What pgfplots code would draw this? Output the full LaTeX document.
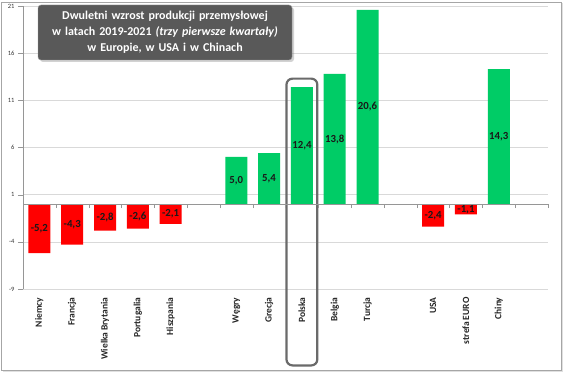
\documentclass[border=0pt]{standalone}
\usepackage{fontspec}
\setmainfont{Carlito}
\usepackage{pgfplots}
\pgfplotsset{compat=1.18}
\usepackage{pgfplotstable}
\usetikzlibrary{shadows}
\definecolor{barred}{RGB}{255,0,0}
\definecolor{bargreen}{RGB}{0,204,102}
\definecolor{boxgray}{RGB}{89,89,89}
\definecolor{gridc}{RGB}{217,217,217}
\definecolor{axc}{RGB}{150,150,150}

\pgfplotstableread{
x y
0 -5.2
1 -4.3
2 -2.8
3 -2.6
4 -2.1
12 -2.4
13 -1.1
}\negdata

\pgfplotstableread{
x y
6 5.0
7 5.4
8 12.4
9 13.8
10 20.6
14 14.3
}\posdata

\begin{document}
\begin{tikzpicture}
\useasboundingbox (0,0) rectangle (564pt,372pt);
% outer frame
\fill[black!12] (3pt,0pt) rectangle (563pt,369pt);
\draw[fill=white, draw=black!35, line width=0.8pt] (1pt,2pt) rectangle (561pt,370pt);

\begin{axis}[
  at={(23pt,83pt)}, anchor=south west,
  scale only axis, width=525pt, height=283pt,
  xmin=-0.5, xmax=15.5, ymin=-9, ymax=21,
  axis y line*=left, axis x line*=bottom,
  x axis line style={draw=none},
  y axis line style={draw=axc},
  xtick={0,1,2,3,4,6,7,8,9,10,12,13,14},
  xticklabels={Niemcy,Francja,Wielka\,Brytania,Portugalia,Hiszpania,Węgry,Grecja,Polska,Belgia,Turcja,USA,strefa\,EURO,Chiny},
  xtick style={draw=none},
  xticklabel style={rotate=90, anchor=east, font=\bfseries\fontsize{9.5}{11}\selectfont, text=black!85},
  ytick={-9,-4,1,6,11,16,21},
  ytick style={draw=axc},
  tick align=outside, major tick length=5pt,
  yticklabel style={font=\fontsize{6.5}{7.5}\selectfont, text=black!80},
  /pgf/number format/assume math mode=true,
  ymajorgrids, grid style={gridc},
  clip=false,
]
\addplot[ybar, bar width=0.67, bar shift=0pt, fill=barred, draw=none] table[x=x,y=y] {\negdata};
\addplot[ybar, bar width=0.67, bar shift=0pt, fill=bargreen, draw=none] table[x=x,y=y] {\posdata};
\addplot[draw=none, mark=none, nodes near coords, point meta=explicit,
  /pgf/number format/.cd, fixed, fixed zerofill, precision=1, use comma, assume math mode=true, /pgfplots/.cd,
  every node near coord/.append style={anchor=center, font=\bfseries\fontsize{10.8}{12}\selectfont, text=black!90}]
  table[x=x, y expr=\thisrow{y}/2, meta=y] {\negdata};
\addplot[draw=none, mark=none, nodes near coords, point meta=explicit,
  /pgf/number format/.cd, fixed, fixed zerofill, precision=1, use comma, assume math mode=true, /pgfplots/.cd,
  every node near coord/.append style={anchor=center, font=\bfseries\fontsize{10.8}{12}\selectfont, text=black!90}]
  table[x=x, y expr=\thisrow{y}/2, meta=y] {\posdata};
\draw[line width=2.2pt, draw=boxgray!90, rounded corners=6pt] (axis cs:7.53,13.3) rectangle (axis cs:8.47,-17.1);
\end{axis}

% zero line with ticks
\begin{axis}[
  at={(23pt,83pt)}, anchor=south west,
  scale only axis, width=525pt, height=283pt,
  xmin=-0.5, xmax=15.5, ymin=-9, ymax=21,
  axis x line*=middle, axis y line=none,
  x axis line style={draw=axc},
  xtick={-0.5,0.5,...,15.5}, xticklabels={},
  xtick style={draw=axc},
  tick align=outside, major tick length=4pt,
]
\end{axis}

\node[fill=boxgray, draw=black!40, rounded corners=3pt, drop shadow={opacity=0.35, shadow xshift=2pt, shadow yshift=-2pt},
  text width=250pt, minimum height=55pt, align=center, inner sep=2pt, text=white,
  font=\bfseries\fontsize{12}{16}\selectfont] at (165pt,339.5pt)
  {Dwuletni wzrost produkcji przemysłowej\\ w latach 2019-2021 \textit{(trzy pierwsze kwartały)}\\ w Europie, w USA i w Chinach};
\end{tikzpicture}
\end{document}
